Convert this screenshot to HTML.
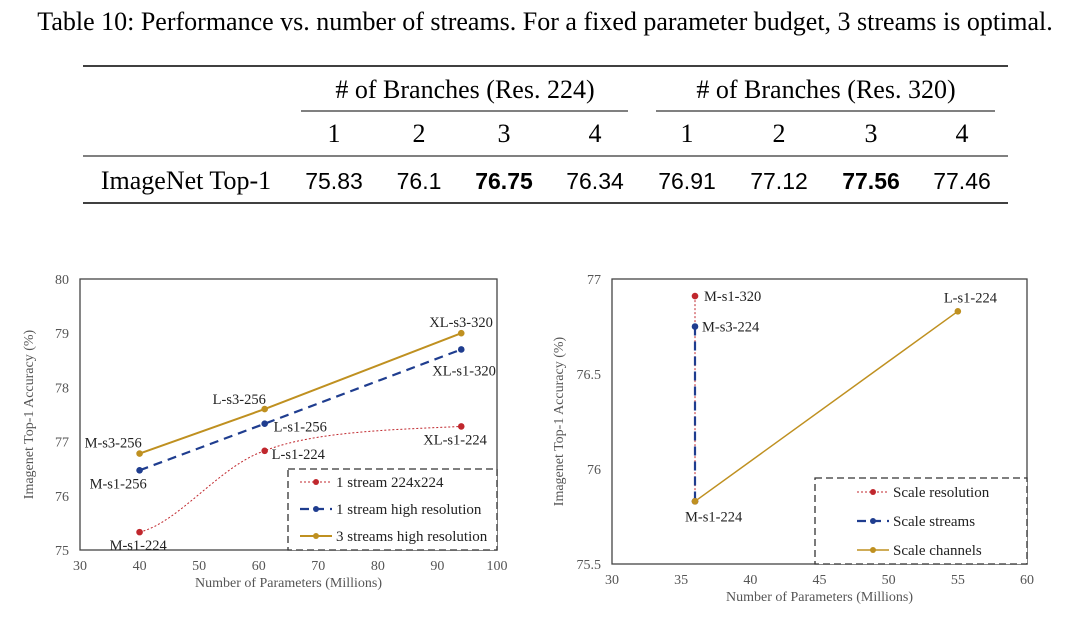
<!DOCTYPE html>
<html><head><meta charset="utf-8"><style>
body{margin:0;background:#fff;width:1073px;height:630px;overflow:hidden}
svg{display:block}
.s{font-family:"Liberation Serif",serif}
.a{font-family:"Liberation Sans",sans-serif}
</style></head><body>
<svg id="root" width="1073" height="630">
<g>
<text class="s" x="545" y="30" font-size="26" text-anchor="middle">Table 10: Performance vs. number of streams. For a fixed parameter budget, 3 streams is optimal.</text>
<line x1="83" y1="66" x2="1008" y2="66" stroke="#000" stroke-width="1.5"/>
<text class="s" x="465" y="98" font-size="26" text-anchor="middle"># of Branches (Res. 224)</text>
<text class="s" x="826" y="98" font-size="26" text-anchor="middle"># of Branches (Res. 320)</text>
<line x1="301" y1="111" x2="628" y2="111" stroke="#000" stroke-width="1"/>
<line x1="656" y1="111" x2="995" y2="111" stroke="#000" stroke-width="1"/>
<g class="s" font-size="26" text-anchor="middle">
<text x="334" y="142">1</text><text x="419" y="142">2</text><text x="504" y="142">3</text><text x="595" y="142">4</text>
<text x="687" y="142">1</text><text x="779" y="142">2</text><text x="871" y="142">3</text><text x="962" y="142">4</text>
</g>
<line x1="83" y1="156" x2="1008" y2="156" stroke="#000" stroke-width="1"/>
<text class="s" x="186" y="189" font-size="26" text-anchor="middle">ImageNet Top-1</text>
<g class="a" font-size="23" text-anchor="middle">
<text x="334" y="189">75.83</text><text x="419" y="189">76.1</text><text x="504" y="189" font-weight="bold">76.75</text><text x="595" y="189">76.34</text>
<text x="687" y="189">76.91</text><text x="779" y="189">77.12</text><text x="871" y="189" font-weight="bold">77.56</text><text x="962" y="189">77.46</text>
</g>
<line x1="83" y1="203" x2="1008" y2="203" stroke="#000" stroke-width="1.5"/>
</g>
<g id="c1"></g>
<g id="c2"></g>
</svg>
<script>
// Left chart data
const l_redX=[40,61,94], l_redY=[75.33,76.83,77.28];
const l_blueX=[40,61,94], l_blueY=[76.47,77.33,78.7];
const l_goldX=[40,61,94], l_goldY=[76.78,77.6,79.0];
const l_xTicks=[30,40,50,60,70,80,90,100], l_yTicks=[75,76,77,78,79,80];
// Right chart data
const r_redX=[36,36], r_redY=[76.91,75.83];
const r_blueX=[36,36], r_blueY=[76.75,75.83];
const r_goldX=[36,55], r_goldY=[75.83,76.83];
const r_xTicks=[30,35,40,45,50,55,60], r_yTicks=[75.5,76,76.5,77];
const NS="http://www.w3.org/2000/svg";
function mk(p,t,at){const e=document.createElementNS(NS,t);for(const k in at)e.setAttribute(k,at[k]);p.appendChild(e);return e;}
const RED="#c0272d",BLUE="#1f3d8f",GOLD="#bf9020";
function chart(g,o){
 const X=v=>o.x0+(v-o.xmin)/(o.xmax-o.xmin)*(o.x1-o.x0);
 const Y=v=>o.y1-(v-o.ymin)/(o.ymax-o.ymin)*(o.y1-o.y0);
 const fr=mk(g,'rect',{x:o.x0,y:o.y0,width:o.x1-o.x0,height:o.y1-o.y0,fill:'none',stroke:'#444','stroke-width':1.3});
 
 
 o.xt.forEach(v=>{const t=mk(g,'text',{x:X(v),y:o.y1+20,'font-size':14,'text-anchor':'middle',fill:'#555',class:'s'});t.textContent=v;
  
  });
 o.yt.forEach(v=>{const t=mk(g,'text',{x:o.x0-11,y:Y(v)+5,'font-size':14,'text-anchor':'end',fill:'#555',class:'s'});t.textContent=v;
  
  });
 const xt=mk(g,'text',{x:(o.x0+o.x1)/2,y:o.y1+37,'font-size':14,'text-anchor':'middle',fill:'#555',class:'s'});xt.textContent='Number of Parameters (Millions)';
 
 
 const cy=(o.y0+o.y1)/2;
 const yt=mk(g,'text',{x:o.yl,y:cy,'font-size':14,'text-anchor':'middle',fill:'#555',class:'s',transform:`rotate(-90 ${o.yl} ${cy})`});yt.textContent='Imagenet Top-1 Accuracy (%)';
 
 
 o.series.forEach(s=>{
  let d;
  if(s.smooth){const p=s.xs.map((x,i)=>[X(x),Y(s.ys[i])]);
   d=`M${p[0]} C${p[0][0]+40},${p[0][1]-10} ${p[1][0]-45},${p[1][1]+15} ${p[1]} C${p[1][0]+50},${p[1][1]-20} ${p[2][0]-60},${p[2][1]+3} ${p[2]}`;}
  else d='M'+s.xs.map((x,i)=>X(x)+','+Y(s.ys[i])).join(' L');
  const pa=mk(g,'path',{d,fill:'none',stroke:s.c,'stroke-width':s.w,'stroke-dasharray':s.da||'none'});
  
  
  s.xs.forEach((x,i)=>{const c=mk(g,'circle',{cx:X(x),cy:Y(s.ys[i]),r:3.3,fill:s.c});
   
   });
 });
 o.labels.forEach(l=>{const t=mk(g,'text',{x:X(l[1])+l[3],y:Y(l[2])+l[4],'font-size':14.5,fill:'#222',class:'s','text-anchor':l[5]||'start'});t.textContent=l[0];
  
  });
 const L=o.leg;
 const lb=mk(g,'rect',{x:L.x,y:L.y,width:L.w,height:L.h,fill:'#fff',stroke:'#333','stroke-width':1.3,'stroke-dasharray':'7,4'});
 
 
 o.series.forEach((s,i)=>{const yy=L.y+L.dy0+i*L.dy;
  mk(g,'line',{x1:L.x+L.lx,y1:yy,x2:L.x+L.lx+32,y2:yy,stroke:s.c,'stroke-width':s.w,'stroke-dasharray':s.da||'none'});
  mk(g,'circle',{cx:L.x+L.lx+16,cy:yy,r:3,fill:s.c});
  const t=mk(g,'text',{x:L.x+L.lx+36,y:yy+5,'font-size':15,fill:'#222',class:'s'});t.textContent=s.label;
  
  });
}
chart(document.getElementById('c1'),{x0:80,x1:497,y0:279,y1:550,xmin:30,xmax:100,ymin:75,ymax:80,xt:l_xTicks,yt:l_yTicks,yl:33,
 series:[{name:'red',xs:l_redX,ys:l_redY,c:RED,w:1,da:'2,2',smooth:true,label:'1 stream 224x224'},
 {name:'blue',xs:l_blueX,ys:l_blueY,c:BLUE,w:2.2,da:'9,6',label:'1 stream high resolution'},
 {name:'gold',xs:l_goldX,ys:l_goldY,c:GOLD,w:2,label:'3 streams high resolution'}],
 labels:[['M-s1-224',40,75.33,-30,18],['L-s1-224',61,76.83,7,8],['XL-s1-224',94,77.28,-38,18],
 ['M-s1-256',40,76.47,-50,18],['L-s1-256',61,77.33,9,8],['XL-s1-320',94,78.7,-29,26],
 ['M-s3-256',40,76.78,-55,-6],['L-s3-256',61,77.6,-52,-5],['XL-s3-320',94,79.0,-32,-6]],
 leg:{x:288,y:469,w:209,h:81,lx:12,dy0:13,dy:27}});
chart(document.getElementById('c2'),{x0:612,x1:1027,y0:279,y1:564,xmin:30,xmax:60,ymin:75.5,ymax:77,xt:r_xTicks,yt:r_yTicks,yl:563,
 series:[{name:'red',xs:r_redX,ys:r_redY,c:RED,w:1,da:'2,2',label:'Scale resolution'},
 {name:'blue',xs:r_blueX,ys:r_blueY,c:BLUE,w:2.2,da:'9,6',label:'Scale streams'},
 {name:'gold',xs:r_goldX,ys:r_goldY,c:GOLD,w:1.5,label:'Scale channels'}],
 labels:[['M-s1-320',36,76.91,9,5],['M-s3-224',36,76.75,7,5],['M-s1-224',36,75.83,-10,20],['L-s1-224',55,76.83,-14,-9]],
 leg:{x:815,y:478,w:212,h:86,lx:42,dy0:14,dy:29}});
</script>
</body></html>
